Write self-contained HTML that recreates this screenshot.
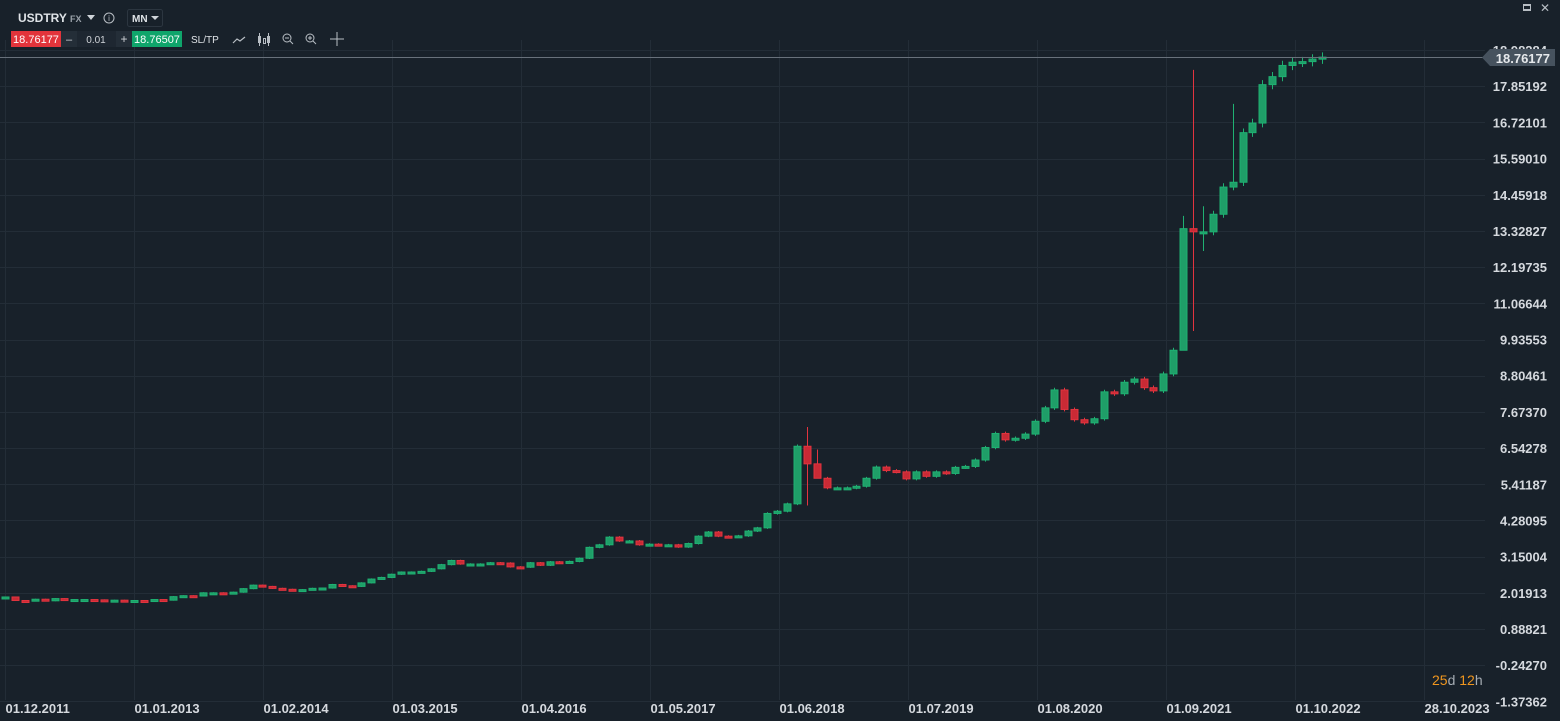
<!DOCTYPE html>
<html><head><meta charset="utf-8"><style>
body{margin:0;background:#18212a;width:1560px;height:721px;overflow:hidden;font-family:"Liberation Sans",sans-serif}
svg{position:absolute;left:0;top:0}
text{font-family:"Liberation Sans",sans-serif}
</style></head><body>
<svg id="s" width="1560" height="721" xmlns="http://www.w3.org/2000/svg">
<rect width="1560" height="721" fill="#18212a"/>
<g id="grid" stroke="#232d37" stroke-width="1"></g>
<g id="c"></g>
<line x1="0" y1="57.5" x2="1485" y2="57.5" stroke="#68717b" stroke-width="1"/>
<g id="ylab" fill="#d5d9de" font-size="13" font-weight="bold" text-anchor="end"></g>
<polygon points="1482,57.5 1490,49 1555,49 1555,66 1490,66" fill="#46525e"/>
<text x="1550" y="63" fill="#e6e9ec" font-size="13" font-weight="bold" text-anchor="end">18.76177</text>
<g id="xlab" fill="#d5d9de" font-size="13" font-weight="bold" text-anchor="start"></g>
<text x="1432" y="685" font-size="14"><tspan fill="#f0961e">25</tspan><tspan fill="#a5acb3">d </tspan><tspan fill="#f0961e">12</tspan><tspan fill="#a5acb3">h</tspan></text>
<text x="18" y="22" fill="#dfe3e7" font-size="12" font-weight="bold">USDTRY</text>
<text x="70" y="22" fill="#9aa2aa" font-size="9" font-weight="bold">FX</text>
<polygon points="87,15 95,15 91,20" fill="#cfd4d9"/>
<circle cx="109" cy="18" r="5" fill="none" stroke="#b8bec4" stroke-width="1"/>
<text x="109" y="21" fill="#b8bec4" font-size="8" text-anchor="middle">i</text>
<rect x="127.5" y="9.5" width="35" height="17" rx="2" fill="none" stroke="#2c3640"/>
<text x="132" y="22" fill="#dfe3e7" font-size="10" font-weight="bold">MN</text>
<polygon points="151,16 159,16 155,20" fill="#cfd4d9"/>
<rect x="11" y="31" width="50" height="16" fill="#e2343b"/>
<text x="36" y="43" fill="#fff" font-size="11" text-anchor="middle">18.76177</text>
<rect x="61" y="31" width="16" height="16" fill="#242e38"/>
<text x="69" y="43" fill="#d0d4d8" font-size="11" text-anchor="middle">–</text>
<rect x="77" y="31" width="39" height="16" fill="#1e2731"/>
<text x="96" y="43" fill="#d0d4d8" font-size="10" text-anchor="middle">0.01</text>
<rect x="116" y="31" width="16" height="16" fill="#242e38"/>
<text x="124" y="43" fill="#d0d4d8" font-size="12" text-anchor="middle">+</text>
<rect x="132" y="31" width="50" height="16" fill="#0fa56b"/>
<text x="157" y="43" fill="#fff" font-size="11" text-anchor="middle">18.76507</text>
<text x="191" y="43" fill="#dfe3e7" font-size="10">SL/TP</text>
<polyline points="233,43 237,39 240,41 245,37" fill="none" stroke="#b8bec4" stroke-width="1.2"/>
<g stroke="#b8bec4" fill="none"><rect x="258.5" y="36.5" width="2" height="6"/><rect x="263.5" y="38.5" width="2" height="5"/><rect x="267.5" y="36.5" width="2" height="6"/><line x1="259.5" y1="33" x2="259.5" y2="46"/><line x1="268.5" y1="33" x2="268.5" y2="46"/>
<circle cx="287" cy="38" r="4"/><line x1="290" y1="41" x2="293" y2="44"/><line x1="285" y1="38" x2="289" y2="38"/>
<circle cx="310" cy="38" r="4"/><line x1="313" y1="41" x2="316" y2="44"/><line x1="308" y1="38" x2="312" y2="38"/><line x1="310" y1="36" x2="310" y2="40"/>
<line x1="330" y1="39" x2="344" y2="39"/><line x1="337" y1="32" x2="337" y2="46"/></g>
<rect x="1523" y="4" width="8" height="7" fill="#b8bec4"/><rect x="1524" y="6" width="6" height="3" fill="#18212a"/>
<text x="1540" y="12" fill="#b8bec4" font-size="12">✕</text>
</svg>
<script>
const NS="http://www.w3.org/2000/svg";
const Y=p=>50+(18.98284-p)*32.0;
const X=i=>5+9.9*i;
const GX=k=>5+9.92*13*k;
const g=document.getElementById('grid'),yl=document.getElementById('ylab'),xl=document.getElementById('xlab'),c=document.getElementById('c');
function el(t,a,par,txt){const e=document.createElementNS(NS,t);for(const k in a)e.setAttribute(k,a[k]);if(txt)e.textContent=txt;par.appendChild(e);return e;}
const labs=["18.98284","17.85192","16.72101","15.59010","14.45918","13.32827","12.19735","11.06644","9.93553","8.80461","7.67370","6.54278","5.41187","4.28095","3.15004","2.01913","0.88821","-0.24270","-1.37362"];
labs.forEach(l=>{const y=Y(parseFloat(l));el('line',{x1:0,x2:1485,y1:Math.round(y)+.5,y2:Math.round(y)+.5},g);el('text',{x:1547,y:y+5},yl,l);});
const xs=["01.12.2011","01.01.2013","01.02.2014","01.03.2015","01.04.2016","01.05.2017","01.06.2018","01.07.2019","01.08.2020","01.09.2021","01.10.2022","28.10.2023"];
xs.forEach((l,k)=>{const x=Math.round(GX(k))+.5;el('line',{x1:x,x2:x,y1:40,y2:700},g);el('text',{x:x,y:713},xl,l);});
const cl=[1.89,
1.78,1.77,1.82,1.77,1.84,1.81,1.81,1.81,1.80,1.79,1.79,1.78,
1.78,1.77,1.81,1.79,1.90,1.93,1.92,2.02,2.02,1.99,2.04,2.15,
2.26,2.22,2.16,2.13,2.10,2.12,2.16,2.17,2.28,2.24,2.22,2.33,
2.45,2.5,2.6,2.67,2.67,2.69,2.77,2.9,3.03,2.92,2.92,2.92,
2.96,2.95,2.83,2.82,2.96,2.88,2.99,2.96,3.0,3.1,3.44,3.52,
3.76,3.64,3.64,3.52,3.54,3.52,3.52,3.45,3.56,3.79,3.92,3.79,
3.77,3.80,3.95,4.05,4.5,4.57,4.8,6.6,6.05,5.6,5.3,5.3,
5.3,5.35,5.6,5.95,5.84,5.8,5.58,5.8,5.66,5.8,5.75,5.94,
5.97,6.17,6.56,7.0,6.8,6.85,6.98,7.38,7.8,8.36,7.75,7.43,
7.33,7.46,8.3,8.24,8.6,8.7,8.43,8.33,8.86,9.6,13.4,13.3,
13.3,13.85,14.7,14.85,16.4,16.7,17.9,18.15,18.5,18.6,18.62,18.7,18.76];
const spec={81:[7.2,4.75],82:[6.5,5.9],119:[13.8,9.65],120:[18.36,10.2],121:[14.1,12.7],124:[17.3,14.6]};
let prev=1.86;
cl.forEach((cv,i)=>{const o=prev;prev=cv;const up=cv>=o;const col=up?'#1fb172':'#e2343f';
let hi=Math.max(o,cv)*1.008,lo=Math.min(o,cv)*0.992;if(spec[i]){hi=spec[i][0];lo=spec[i][1];}
const x=Math.round(X(i))+.5;el('line',{x1:x,x2:x,y1:Y(hi),y2:Y(lo),stroke:col,'stroke-width':1},c);
const yt=Y(Math.max(o,cv)),yb=Y(Math.min(o,cv));
el('rect',{x:x-3.5,y:yt,width:7,height:Math.max(yb-yt,2),fill:up?'#1f9e68':'#c92a35',stroke:col,'stroke-width':1},c);});
</script>
</body></html>
